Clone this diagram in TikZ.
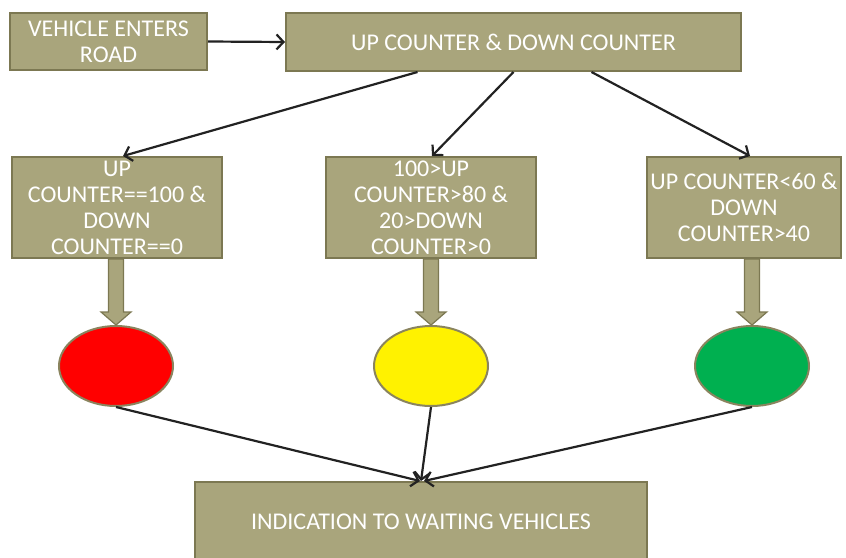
\documentclass[tikz,border=0pt]{standalone}
\usepackage{fontspec}
\setmainfont{Carlito}
\usetikzlibrary{arrows.meta,shapes.geometric,calc}
\definecolor{khaki}{HTML}{A9A57C}
\definecolor{khakiedge}{HTML}{7C7852}
\definecolor{ovaledge}{HTML}{8A845E}
\definecolor{lightgreen}{HTML}{00B050}
\definecolor{ink}{HTML}{222222}
\tikzset{
  box/.style={draw=khakiedge, fill=khaki, line width=2pt, inner sep=0pt,
    align=center, text=white, font=\fontsize{24}{26}\selectfont},
  lamp/.style={ellipse, draw=ovaledge, line width=2pt, minimum width=114pt,
    minimum height=80pt, inner sep=0pt},
  thin/.style={draw=ink, line width=2.2pt, -{Straight Barb[length=7pt,width=15pt]}},
  fat/.style={draw=khakiedge, fill=khaki, line width=1.2pt, line join=miter}
}
\newcommand{\fatarr}[2]{%
  \draw[fat] (#2.north) -- ([shift={(-15pt,13pt)}]#2.north)
    -- ([shift={(-7.5pt,13pt)}]#2.north)
    -- ([xshift=-7.5pt]#2.north |- #1.south)
    -- ([xshift=7.5pt]#2.north |- #1.south)
    -- ([shift={(7.5pt,13pt)}]#2.north)
    -- ([shift={(15pt,13pt)}]#2.north) -- cycle;}
\begin{document}
\begin{tikzpicture}[x=1pt,y=-1pt]
\useasboundingbox (0,0) rectangle (846,557);
\clip (0,0) rectangle (846,557);
\node[box, minimum width=197pt, minimum height=57pt] (v) at (108.5,41.5) {VEHICLE ENTERS\\ROAD};
\node[box, minimum width=455pt, minimum height=58pt] (c) at (513.5,42) {UP COUNTER \& DOWN COUNTER};
\node[box, minimum width=210pt, minimum height=101pt] (L) at (117,207.5) {UP\\COUNTER==100 \&\\DOWN\\COUNTER==0};
\node[box, minimum width=210pt, minimum height=101pt] (M) at (431,207.5) {100>UP\\COUNTER>80 \&\\20>DOWN\\COUNTER>0};
\node[box, minimum width=194pt, minimum height=101pt] (R) at (744,207.5) {UP COUNTER<60 \&\\DOWN\\COUNTER>40};
\node[lamp, fill=red] (r) at (116,366) {};
\node[lamp, fill=yellow] (y) at (431,366) {};
\node[lamp, fill=lightgreen] (g) at (752,366) {};
\node[box, minimum width=452pt, minimum height=80pt] (I) at (421,522) {INDICATION TO WAITING VEHICLES};
\draw[thin] (v.east) -- (c.west);
\draw[thin] ([xshift=-96pt]c.south) -- ([xshift=6pt]L.north);
\draw[thin] (c.south) -- ([xshift=1pt]M.north);
\draw[thin] ([xshift=78pt]c.south) -- ([xshift=6pt]R.north);
\fatarr{L}{r}
\fatarr{M}{y}
\fatarr{R}{g}
\draw[thin] (r.south) -- ([xshift=-1pt]I.north);
\draw[thin] (y.south) -- (I.north);
\draw[thin] (g.south) -- ([xshift=3pt]I.north);
\end{tikzpicture}
\end{document}
